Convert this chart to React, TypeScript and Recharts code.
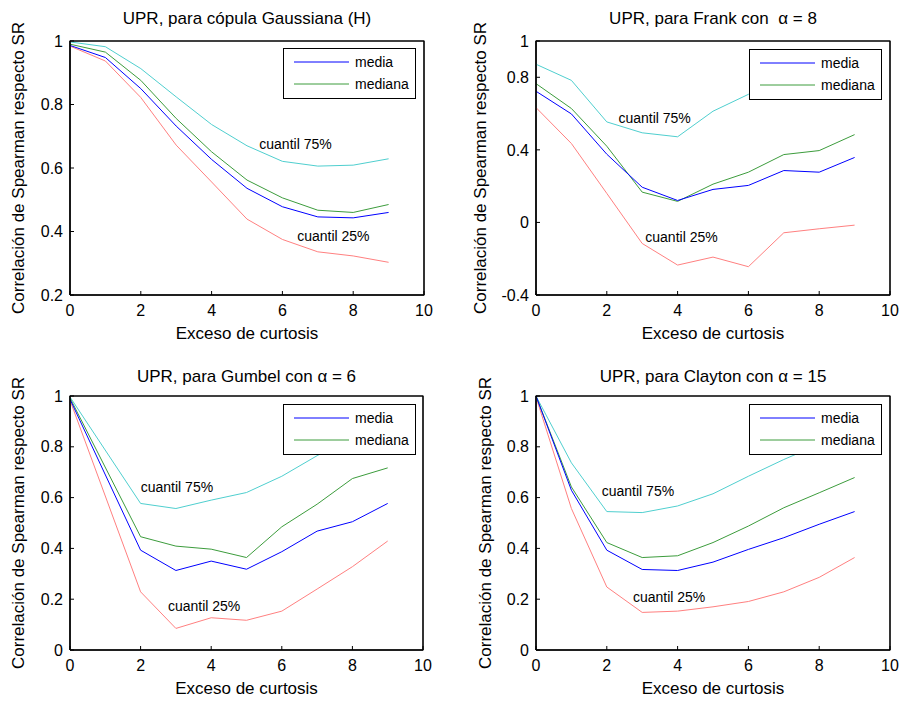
import React from 'react';
import { LineChart, Line, XAxis, YAxis, Legend, ReferenceDot, CartesianGrid } from 'recharts';

const FONT = '"Liberation Sans", Arial, Helvetica, sans-serif';

// x values (exceso de curtosis)
const curtosisFull = [0, 1, 2, 3, 4, 5, 6, 7, 8, 9];
const curtosisGumbel = [0, 2, 3, 4, 5, 6, 7, 8, 9];
const xTicks = [0, 2, 4, 6, 8, 10];

// Gaussiana (H)
const gaussMedia = [0.986, 0.948, 0.85, 0.732, 0.627, 0.536, 0.478, 0.446, 0.443, 0.46];
const gaussMediana = [0.99, 0.965, 0.876, 0.756, 0.651, 0.562, 0.506, 0.467, 0.46, 0.485];
const gaussQ75 = [0.997, 0.982, 0.913, 0.824, 0.737, 0.67, 0.621, 0.606, 0.609, 0.629];
const gaussQ25 = [0.984, 0.937, 0.822, 0.672, 0.556, 0.439, 0.375, 0.336, 0.323, 0.303];
const gaussYTicks = [0.2, 0.4, 0.6, 0.8, 1];

// Frank alpha = 8
const frankMedia = [0.723, 0.598, 0.376, 0.194, 0.121, 0.182, 0.204, 0.286, 0.277, 0.358];
const frankMediana = [0.765, 0.628, 0.42, 0.167, 0.116, 0.211, 0.277, 0.374, 0.396, 0.484];
const frankQ75 = [0.872, 0.783, 0.554, 0.494, 0.472, 0.613, 0.706, 0.78, 0.81, 0.86];
const frankQ25 = [0.633, 0.435, 0.16, -0.116, -0.235, -0.191, -0.244, -0.057, -0.035, -0.015];
const frankYTicks = [-0.4, 0, 0.4, 0.8, 1];

// Gumbel alpha = 6
const gumbelMedia = [0.987, 0.393, 0.313, 0.35, 0.318, 0.387, 0.468, 0.505, 0.577];
const gumbelMediana = [0.992, 0.446, 0.409, 0.397, 0.364, 0.485, 0.574, 0.675, 0.717];
const gumbelQ75 = [0.996, 0.577, 0.557, 0.59, 0.62, 0.684, 0.765, 0.84, 0.9];
const gumbelQ25 = [0.983, 0.229, 0.085, 0.127, 0.117, 0.153, 0.24, 0.328, 0.429];

// Clayton alpha = 15
const claytonMedia = [1.0, 0.629, 0.393, 0.317, 0.313, 0.346, 0.396, 0.442, 0.495, 0.545];
const claytonMediana = [1.0, 0.642, 0.423, 0.364, 0.371, 0.423, 0.488, 0.56, 0.619, 0.679];
const claytonQ75 = [1.0, 0.737, 0.545, 0.541, 0.567, 0.615, 0.684, 0.75, 0.81, 0.86];
const claytonQ25 = [0.996, 0.557, 0.248, 0.148, 0.153, 0.17, 0.191, 0.229, 0.286, 0.364];
const unitYTicks = [0, 0.2, 0.4, 0.6, 0.8, 1];

const C_MEDIA = '#0000ff';
const C_MEDIANA = '#3c9c3c';
const C_Q75 = '#4fcfcf';
const C_Q25 = '#ff8080';

function build(xs: number[], media: number[], mediana: number[], q75: number[], q25: number[]) {
  return xs.map((x, i) => ({ x, media: media[i], mediana: mediana[i], q75: q75[i], q25: q25[i] }));
}

const panels = [
  {
    title: 'UPR, para cópula Gaussiana (H)',
    data: build(curtosisFull, gaussMedia, gaussMediana, gaussQ75, gaussQ25),
    yDomain: [0.2, 1], yTicks: gaussYTicks,
    left: 0, top: 0, w: 451, h: 350,
    plotLeft: 70, plotRight: 424, plotTop: 41, plotBottom: 295,
    titleY: 19, yLabelX: 18, xLabelOffset: 11,
    legend: { left: 283, top: 48 },
    ann75: [6.37, 0.677], ann25: [7.44, 0.386],
  },
  {
    title: 'UPR, para Frank con \u00a0\u03b1 = 8',
    data: build(curtosisFull, frankMedia, frankMediana, frankQ75, frankQ25),
    yDomain: [-0.4, 1], yTicks: frankYTicks,
    left: 451, top: 0, w: 451, h: 350,
    plotLeft: 85, plotRight: 439, plotTop: 41, plotBottom: 295,
    titleY: 19, yLabelX: 29, xLabelOffset: 11,
    legend: { left: 298, top: 49 },
    ann75: [3.35, 0.578], ann25: [4.11, -0.079],
  },
  {
    title: 'UPR, para Gumbel con \u03b1 = 6',
    data: build(curtosisGumbel, gumbelMedia, gumbelMediana, gumbelQ75, gumbelQ25),
    yDomain: [0, 1], yTicks: unitYTicks,
    left: 0, top: 350, w: 451, h: 351,
    plotLeft: 70, plotRight: 423, plotTop: 46, plotBottom: 300,
    titleY: 27, yLabelX: 18, xLabelOffset: 7,
    legend: { left: 283, top: 54 },
    ann75: [3.03, 0.642], ann25: [3.8, 0.173],
  },
  {
    title: 'UPR, para Clayton con \u03b1 = 15',
    data: build(curtosisFull, claytonMedia, claytonMediana, claytonQ75, claytonQ25),
    yDomain: [0, 1], yTicks: unitYTicks,
    left: 451, top: 350, w: 451, h: 351,
    plotLeft: 85, plotRight: 439, plotTop: 46, plotBottom: 300,
    titleY: 27, yLabelX: 34, xLabelOffset: 7,
    legend: { left: 298, top: 54 },
    ann75: [2.88, 0.624], ann25: [3.76, 0.208],
  },
];

const LegendBox = (props: any) => {
  const items = (props.payload || []).filter((p: any) => p.type !== 'none');
  return (
    <div style={{ width: 133, height: 51, boxSizing: 'border-box', border: '1px solid #000', background: '#fff', position: 'relative', fontFamily: FONT, fontSize: 14, color: '#000' }}>
      {items.map((it: any, i: number) => (
        <div key={i} style={{ position: 'absolute', left: 10, top: 4 + i * 22, height: 18, display: 'flex', alignItems: 'center' }}>
          <svg width={55} height={18} style={{ display: 'block' }}>
            <line x1={0} x2={55} y1={9} y2={9} stroke={it.color} strokeWidth={1} />
          </svg>
          <span style={{ marginLeft: 6, lineHeight: '18px' }}>{it.value}</span>
        </div>
      ))}
    </div>
  );
};

const fmt = (v: number) => String(Math.round(v * 100) / 100);

// frame lines at the edges of the plot area, taken from the chart's own offset
const hFrame = (args: any) => {
  const o = args && args.offset;
  return o ? [o.top, o.top + o.height] : [];
};
const vFrame = (args: any) => {
  const o = args && args.offset;
  return o ? [o.left, o.left + o.width] : [];
};

function Panel({ p }: { p: any }) {
  const margin = { top: p.plotTop, right: p.w - p.plotRight, left: 0, bottom: 0 };
  const tickStyle = { fontSize: 16, fill: '#000', fontFamily: FONT };
  const fw = p.plotRight - p.plotLeft;
  const fh = p.plotBottom - p.plotTop;
  return (
    <div style={{ position: 'absolute', left: p.left, top: p.top, width: p.w, height: p.h }}>
      <div style={{ position: 'absolute', left: p.plotLeft - 40, width: p.plotRight - p.plotLeft + 80, top: p.titleY - 10, height: 20, lineHeight: '20px', textAlign: 'center', fontFamily: FONT, fontSize: 17, color: '#000', whiteSpace: 'pre' }}>
        {p.title}
      </div>
      <LineChart width={p.w} height={p.h} data={p.data} margin={margin}>
        <CartesianGrid stroke="#000" strokeWidth={1} horizontalCoordinatesGenerator={hFrame} verticalCoordinatesGenerator={vFrame} />
        <XAxis
          dataKey="x" type="number" domain={[0, 10]} ticks={xTicks}
          tickSize={-4} tickMargin={14} height={p.h - p.plotBottom}
          stroke="#000" tick={tickStyle}
          label={{ value: 'Exceso de curtosis', position: 'insideBottom', offset: p.xLabelOffset, fontSize: 17, fill: '#000', fontFamily: FONT }}
        />
        <YAxis
          type="number" domain={p.yDomain} ticks={p.yTicks} tickFormatter={fmt}
          tickSize={-4} tickMargin={11} width={p.plotLeft}
          stroke="#000" tick={tickStyle}
          label={{ value: 'Correlación de Spearman respecto SR', angle: -90, position: 'insideLeft', offset: p.yLabelX, textAnchor: 'middle', fontSize: 17, fill: '#000', fontFamily: FONT }}
        />
        <Line dataKey="q75" name="cuantil 75%" stroke={C_Q75} strokeWidth={1} dot={false} legendType="none" isAnimationActive={false} />
        <Line dataKey="q25" name="cuantil 25%" stroke={C_Q25} strokeWidth={1} dot={false} legendType="none" isAnimationActive={false} />
        <Line dataKey="mediana" name="mediana" stroke={C_MEDIANA} strokeWidth={1} dot={false} isAnimationActive={false} />
        <Line dataKey="media" name="media" stroke={C_MEDIA} strokeWidth={1} dot={false} isAnimationActive={false} />
        <ReferenceDot x={p.ann75[0]} y={p.ann75[1]} r={0} fill="none" stroke="none" ifOverflow="visible"
          label={{ value: 'cuantil 75%', position: 'center', fontSize: 14, fill: '#000', fontFamily: FONT }} />
        <ReferenceDot x={p.ann25[0]} y={p.ann25[1]} r={0} fill="none" stroke="none" ifOverflow="visible"
          label={{ value: 'cuantil 25%', position: 'center', fontSize: 14, fill: '#000', fontFamily: FONT }} />
        <Legend
          layout="horizontal" verticalAlign="middle" align="center"
          content={<LegendBox />}
          wrapperStyle={{ left: p.legend.left, top: p.legend.top, width: 133, height: 51 }}
          payload={[
            { value: 'media', type: 'line', color: C_MEDIA, id: 'media' },
            { value: 'mediana', type: 'line', color: C_MEDIANA, id: 'mediana' },
          ]}
        />
      </LineChart>
      <svg width={fw + 4} height={fh + 4} style={{ position: 'absolute', zIndex: 5, pointerEvents: 'none', left: p.plotLeft - 2, top: p.plotTop - 2, overflow: 'visible' }}>
        <polyline points={`2,${fh + 2} 2,2 ${fw + 2},2 ${fw + 2},${fh + 2} 2,${fh + 2}`} fill="none" stroke="#000" strokeWidth={1.2} />
      </svg>
    </div>
  );
}

export default function App() {
  return (
    <div style={{ position: 'absolute', left: 0, top: 0, width: 902, height: 701, background: '#fff' }}>
      {panels.map((p, i) => <Panel key={i} p={p} />)}
    </div>
  );
}
